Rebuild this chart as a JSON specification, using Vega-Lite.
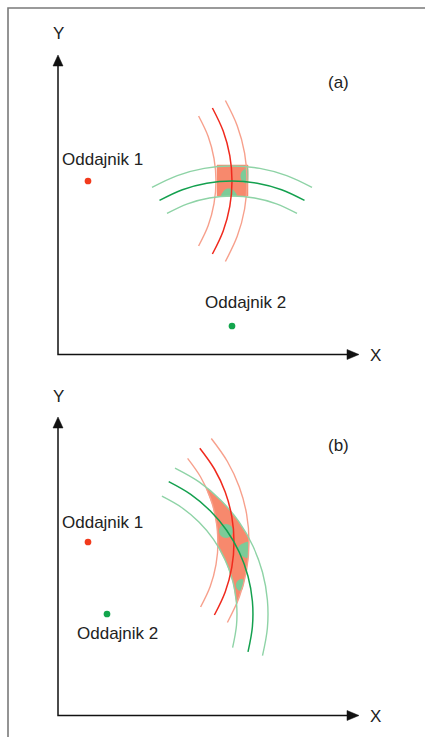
{
  "$schema": "https://vega.github.io/schema/vega-lite/v6.json",
  "width": 425,
  "height": 737,
  "autosize": {"type": "none"},
  "padding": 0,
  "background": "white",
  "config": {"view": {"stroke": null}},
  "datasets": {
    "lines": [
      {"id": "border", "k": "border", "i": 0, "x": 425, "y": 8},
      {"id": "border", "k": "border", "i": 1, "x": 8, "y": 8},
      {"id": "border", "k": "border", "i": 2, "x": 8, "y": 737},
      {"id": "axa", "k": "axis", "i": 0, "x": 58, "y": 64},
      {"id": "axa", "k": "axis", "i": 1, "x": 58, "y": 354.5},
      {"id": "axa", "k": "axis", "i": 2, "x": 349, "y": 354.5},
      {"id": "axb", "k": "axis", "i": 0, "x": 58, "y": 426},
      {"id": "axb", "k": "axis", "i": 1, "x": 58, "y": 715.5},
      {"id": "axb", "k": "axis", "i": 2, "x": 349, "y": 715.5},

      {"id": "ra1", "k": "ro", "i": 0, "x": 198.6, "y": 116},
      {"id": "ra1", "k": "ro", "i": 1, "x": 208.2, "y": 136.5},
      {"id": "ra1", "k": "ro", "i": 2, "x": 214.0, "y": 158.4},
      {"id": "ra1", "k": "ro", "i": 3, "x": 216, "y": 181},
      {"id": "ra1", "k": "ro", "i": 4, "x": 214.0, "y": 203.6},
      {"id": "ra1", "k": "ro", "i": 5, "x": 208.2, "y": 225.5},
      {"id": "ra1", "k": "ro", "i": 6, "x": 198.6, "y": 246},
      {"id": "ra2", "k": "rm", "i": 0, "x": 212.4, "y": 108},
      {"id": "ra2", "k": "rm", "i": 1, "x": 223.2, "y": 131.1},
      {"id": "ra2", "k": "rm", "i": 2, "x": 229.8, "y": 155.7},
      {"id": "ra2", "k": "rm", "i": 3, "x": 232, "y": 181},
      {"id": "ra2", "k": "rm", "i": 4, "x": 229.8, "y": 206.4},
      {"id": "ra2", "k": "rm", "i": 5, "x": 223.2, "y": 230.9},
      {"id": "ra2", "k": "rm", "i": 6, "x": 212.4, "y": 254},
      {"id": "ra3", "k": "ro", "i": 0, "x": 225.4, "y": 100.5},
      {"id": "ra3", "k": "ro", "i": 1, "x": 237.3, "y": 125.9},
      {"id": "ra3", "k": "ro", "i": 2, "x": 244.6, "y": 153.1},
      {"id": "ra3", "k": "ro", "i": 3, "x": 247, "y": 181},
      {"id": "ra3", "k": "ro", "i": 4, "x": 244.6, "y": 209},
      {"id": "ra3", "k": "ro", "i": 5, "x": 237.3, "y": 236.1},
      {"id": "ra3", "k": "ro", "i": 6, "x": 225.4, "y": 261.5},

      {"id": "ga1", "k": "go", "i": 0, "x": 152, "y": 187.4},
      {"id": "ga1", "k": "go", "i": 1, "x": 177.3, "y": 175.6},
      {"id": "ga1", "k": "go", "i": 2, "x": 204.2, "y": 168.4},
      {"id": "ga1", "k": "go", "i": 3, "x": 232, "y": 166},
      {"id": "ga1", "k": "go", "i": 4, "x": 259.8, "y": 168.4},
      {"id": "ga1", "k": "go", "i": 5, "x": 286.7, "y": 175.6},
      {"id": "ga1", "k": "go", "i": 6, "x": 312, "y": 187.4},
      {"id": "ga2", "k": "gm", "i": 0, "x": 159.5, "y": 200.4},
      {"id": "ga2", "k": "gm", "i": 1, "x": 182.4, "y": 189.7},
      {"id": "ga2", "k": "gm", "i": 2, "x": 206.8, "y": 183.2},
      {"id": "ga2", "k": "gm", "i": 3, "x": 232, "y": 181},
      {"id": "ga2", "k": "gm", "i": 4, "x": 257.2, "y": 183.2},
      {"id": "ga2", "k": "gm", "i": 5, "x": 281.6, "y": 189.7},
      {"id": "ga2", "k": "gm", "i": 6, "x": 304.5, "y": 200.4},
      {"id": "ga3", "k": "go", "i": 0, "x": 167, "y": 213.4},
      {"id": "ga3", "k": "go", "i": 1, "x": 187.5, "y": 203.8},
      {"id": "ga3", "k": "go", "i": 2, "x": 209.4, "y": 198},
      {"id": "ga3", "k": "go", "i": 3, "x": 232, "y": 196},
      {"id": "ga3", "k": "go", "i": 4, "x": 254.6, "y": 198},
      {"id": "ga3", "k": "go", "i": 5, "x": 276.5, "y": 203.8},
      {"id": "ga3", "k": "go", "i": 6, "x": 297, "y": 213.4},

      {"id": "rb1", "k": "ro", "i": 0, "x": 187.6, "y": 458.4},
      {"id": "rb1", "k": "ro", "i": 1, "x": 200.6, "y": 477},
      {"id": "rb1", "k": "ro", "i": 2, "x": 210.2, "y": 497.5},
      {"id": "rb1", "k": "ro", "i": 3, "x": 216, "y": 519.4},
      {"id": "rb1", "k": "ro", "i": 4, "x": 218, "y": 542},
      {"id": "rb1", "k": "ro", "i": 5, "x": 216, "y": 564.6},
      {"id": "rb1", "k": "ro", "i": 6, "x": 210.2, "y": 586.5},
      {"id": "rb1", "k": "ro", "i": 7, "x": 200.6, "y": 607},
      {"id": "rb2", "k": "rm", "i": 0, "x": 199.8, "y": 448.2},
      {"id": "rb2", "k": "rm", "i": 1, "x": 214.4, "y": 469},
      {"id": "rb2", "k": "rm", "i": 2, "x": 225.2, "y": 492.1},
      {"id": "rb2", "k": "rm", "i": 3, "x": 231.8, "y": 516.7},
      {"id": "rb2", "k": "rm", "i": 4, "x": 234, "y": 542},
      {"id": "rb2", "k": "rm", "i": 5, "x": 231.8, "y": 567.4},
      {"id": "rb2", "k": "rm", "i": 6, "x": 225.2, "y": 591.9},
      {"id": "rb2", "k": "rm", "i": 7, "x": 214.4, "y": 615},
      {"id": "rb3", "k": "ro", "i": 0, "x": 211.3, "y": 438.5},
      {"id": "rb3", "k": "ro", "i": 1, "x": 227.4, "y": 461.5},
      {"id": "rb3", "k": "ro", "i": 2, "x": 239.3, "y": 487},
      {"id": "rb3", "k": "ro", "i": 3, "x": 246.6, "y": 514},
      {"id": "rb3", "k": "ro", "i": 4, "x": 249, "y": 542},
      {"id": "rb3", "k": "ro", "i": 5, "x": 246.6, "y": 570},
      {"id": "rb3", "k": "ro", "i": 6, "x": 239.3, "y": 597.1},
      {"id": "rb3", "k": "ro", "i": 7, "x": 227.4, "y": 622.5},

      {"id": "gb1", "k": "go", "i": 0, "x": 161.9, "y": 496.2},
      {"id": "gb1", "k": "go", "i": 1, "x": 181.6, "y": 507.5},
      {"id": "gb1", "k": "go", "i": 2, "x": 198.9, "y": 522.1},
      {"id": "gb1", "k": "go", "i": 3, "x": 213.5, "y": 539.4},
      {"id": "gb1", "k": "go", "i": 4, "x": 224.8, "y": 559.1},
      {"id": "gb1", "k": "go", "i": 5, "x": 232.6, "y": 580.4},
      {"id": "gb1", "k": "go", "i": 6, "x": 236.5, "y": 602.7},
      {"id": "gb1", "k": "go", "i": 7, "x": 236.5, "y": 625.3},
      {"id": "gb1", "k": "go", "i": 8, "x": 232.6, "y": 647.6},
      {"id": "gb2", "k": "gm", "i": 0, "x": 168.7, "y": 481.7},
      {"id": "gb2", "k": "gm", "i": 1, "x": 190.7, "y": 494.4},
      {"id": "gb2", "k": "gm", "i": 2, "x": 210.2, "y": 510.8},
      {"id": "gb2", "k": "gm", "i": 3, "x": 226.6, "y": 530.3},
      {"id": "gb2", "k": "gm", "i": 4, "x": 239.3, "y": 552.3},
      {"id": "gb2", "k": "gm", "i": 5, "x": 248, "y": 576.2},
      {"id": "gb2", "k": "gm", "i": 6, "x": 252.4, "y": 601.3},
      {"id": "gb2", "k": "gm", "i": 7, "x": 252.4, "y": 626.7},
      {"id": "gb2", "k": "gm", "i": 8, "x": 248, "y": 651.8},
      {"id": "gb3", "k": "go", "i": 0, "x": 175, "y": 468.1},
      {"id": "gb3", "k": "go", "i": 1, "x": 199.4, "y": 482.1},
      {"id": "gb3", "k": "go", "i": 2, "x": 220.8, "y": 500.2},
      {"id": "gb3", "k": "go", "i": 3, "x": 238.9, "y": 521.7},
      {"id": "gb3", "k": "go", "i": 4, "x": 252.9, "y": 546},
      {"id": "gb3", "k": "go", "i": 5, "x": 262.5, "y": 572.3},
      {"id": "gb3", "k": "go", "i": 6, "x": 267.4, "y": 600},
      {"id": "gb3", "k": "go", "i": 7, "x": 267.4, "y": 628},
      {"id": "gb3", "k": "go", "i": 8, "x": 262.5, "y": 655.7}
    ],
    "polys": [
      {"id": "arr_ay", "k": "arrow", "i": 0, "x": 58, "y": 55},
      {"id": "arr_ay", "k": "arrow", "i": 1, "x": 63, "y": 66},
      {"id": "arr_ay", "k": "arrow", "i": 2, "x": 53, "y": 66},
      {"id": "arr_ax", "k": "arrow", "i": 0, "x": 359, "y": 354.5},
      {"id": "arr_ax", "k": "arrow", "i": 1, "x": 347, "y": 349.5},
      {"id": "arr_ax", "k": "arrow", "i": 2, "x": 347, "y": 359.5},
      {"id": "arr_by", "k": "arrow", "i": 0, "x": 58, "y": 417},
      {"id": "arr_by", "k": "arrow", "i": 1, "x": 63, "y": 428},
      {"id": "arr_by", "k": "arrow", "i": 2, "x": 53, "y": 428},
      {"id": "arr_bx", "k": "arrow", "i": 0, "x": 359, "y": 715.5},
      {"id": "arr_bx", "k": "arrow", "i": 1, "x": 347, "y": 710.5},
      {"id": "arr_bx", "k": "arrow", "i": 2, "x": 347, "y": 720.5},

      {"id": "oa", "k": "orange", "i": 0, "x": 217, "y": 165},
      {"id": "oa", "k": "orange", "i": 1, "x": 248, "y": 165},
      {"id": "oa", "k": "orange", "i": 2, "x": 248, "y": 196},
      {"id": "oa", "k": "orange", "i": 3, "x": 217, "y": 196},

      {"id": "ob", "k": "orange", "i": 0, "x": 205.7, "y": 486.8},
      {"id": "ob", "k": "orange", "i": 1, "x": 222.8, "y": 502.2},
      {"id": "ob", "k": "orange", "i": 2, "x": 237.2, "y": 519.4},
      {"id": "ob", "k": "orange", "i": 3, "x": 248.9, "y": 538.0},
      {"id": "ob", "k": "orange", "i": 4, "x": 248.1, "y": 558.8},
      {"id": "ob", "k": "orange", "i": 5, "x": 244.2, "y": 580.9},
      {"id": "ob", "k": "orange", "i": 6, "x": 236.6, "y": 603.9},
      {"id": "ob", "k": "orange", "i": 7, "x": 233.4, "y": 583.7},
      {"id": "ob", "k": "orange", "i": 8, "x": 227.1, "y": 564.2},
      {"id": "ob", "k": "orange", "i": 9, "x": 217.9, "y": 546.2},
      {"id": "ob", "k": "orange", "i": 10, "x": 217.0, "y": 526.2},
      {"id": "ob", "k": "orange", "i": 11, "x": 213.0, "y": 506.2},

      {"id": "pa1", "k": "patch", "i": 0, "x": 248, "y": 168},
      {"id": "pa1", "k": "patch", "i": 1, "x": 244, "y": 169.5},
      {"id": "pa1", "k": "patch", "i": 2, "x": 241, "y": 173},
      {"id": "pa1", "k": "patch", "i": 3, "x": 240.5, "y": 177},
      {"id": "pa1", "k": "patch", "i": 4, "x": 242, "y": 181},
      {"id": "pa1", "k": "patch", "i": 5, "x": 245, "y": 183},
      {"id": "pa1", "k": "patch", "i": 6, "x": 248, "y": 183.5},
      {"id": "pa2", "k": "patch", "i": 0, "x": 222, "y": 196},
      {"id": "pa2", "k": "patch", "i": 1, "x": 223, "y": 192},
      {"id": "pa2", "k": "patch", "i": 2, "x": 226, "y": 189},
      {"id": "pa2", "k": "patch", "i": 3, "x": 229, "y": 188.5},
      {"id": "pa2", "k": "patch", "i": 4, "x": 232, "y": 189},
      {"id": "pa2", "k": "patch", "i": 5, "x": 235, "y": 192},
      {"id": "pa2", "k": "patch", "i": 6, "x": 236, "y": 196},
      {"id": "pb1", "k": "patch", "i": 0, "x": 233, "y": 531},
      {"id": "pb1", "k": "patch", "i": 1, "x": 231, "y": 536},
      {"id": "pb1", "k": "patch", "i": 2, "x": 226, "y": 538},
      {"id": "pb1", "k": "patch", "i": 3, "x": 221, "y": 536},
      {"id": "pb1", "k": "patch", "i": 4, "x": 219, "y": 531},
      {"id": "pb1", "k": "patch", "i": 5, "x": 221, "y": 526},
      {"id": "pb1", "k": "patch", "i": 6, "x": 226, "y": 524},
      {"id": "pb1", "k": "patch", "i": 7, "x": 231, "y": 526},
      {"id": "pb2", "k": "patch", "i": 0, "x": 248.5, "y": 543},
      {"id": "pb2", "k": "patch", "i": 1, "x": 244, "y": 543},
      {"id": "pb2", "k": "patch", "i": 2, "x": 239.5, "y": 545.5},
      {"id": "pb2", "k": "patch", "i": 3, "x": 237.5, "y": 550},
      {"id": "pb2", "k": "patch", "i": 4, "x": 239.5, "y": 554.5},
      {"id": "pb2", "k": "patch", "i": 5, "x": 244, "y": 557},
      {"id": "pb2", "k": "patch", "i": 6, "x": 248, "y": 557},
      {"id": "pb3", "k": "patch", "i": 0, "x": 243.5, "y": 580},
      {"id": "pb3", "k": "patch", "i": 1, "x": 239.5, "y": 579.5},
      {"id": "pb3", "k": "patch", "i": 2, "x": 236.5, "y": 582.5},
      {"id": "pb3", "k": "patch", "i": 3, "x": 236, "y": 586.5},
      {"id": "pb3", "k": "patch", "i": 4, "x": 238, "y": 590},
      {"id": "pb3", "k": "patch", "i": 5, "x": 241, "y": 590.5},
      {"id": "pb3", "k": "patch", "i": 6, "x": 243, "y": 588}
    ],
    "dots": [
      {"who": "Oddajnik 1", "x": 88, "y": 181},
      {"who": "Oddajnik 2", "x": 232, "y": 326},
      {"who": "Oddajnik 1", "x": 88, "y": 542},
      {"who": "Oddajnik 2", "x": 107, "y": 614}
    ],
    "labels": [
      {"text": "Y", "x": 53, "y": 39},
      {"text": "(a)", "x": 328, "y": 88},
      {"text": "Oddajnik 1", "x": 62, "y": 165},
      {"text": "Oddajnik 2", "x": 205, "y": 308},
      {"text": "X", "x": 370, "y": 361},
      {"text": "Y", "x": 53, "y": 402},
      {"text": "(b)", "x": 328, "y": 451},
      {"text": "Oddajnik 1", "x": 62, "y": 528},
      {"text": "Oddajnik 2", "x": 77, "y": 639},
      {"text": "X", "x": 370, "y": 722}
    ]
  },
  "encoding": {
    "x": {"field": "x", "type": "quantitative", "axis": null, "scale": {"domain": [0, 425], "nice": false, "zero": false}},
    "y": {"field": "y", "type": "quantitative", "axis": null, "scale": {"domain": [0, 737], "nice": false, "zero": false, "reverse": true}}
  },
  "layer": [
    {
      "data": {"name": "lines"},
      "transform": [{"filter": "datum.k == 'border'"}],
      "mark": {"type": "line", "stroke": "#7a7a7a", "strokeWidth": 1.6},
      "encoding": {"detail": {"field": "id"}, "order": {"field": "i", "type": "quantitative"}}
    },
    {
      "data": {"name": "polys"},
      "transform": [{"filter": "datum.k == 'orange'"}],
      "mark": {"type": "line", "interpolate": "linear-closed", "fill": "#f7896d", "stroke": "#f7896d", "strokeWidth": 0.5},
      "encoding": {"detail": {"field": "id"}, "order": {"field": "i", "type": "quantitative"}}
    },
    {
      "data": {"name": "polys"},
      "transform": [{"filter": "datum.k == 'patch'"}],
      "mark": {"type": "line", "interpolate": "cardinal-closed", "fill": "#7ccb98", "strokeWidth": 0},
      "encoding": {"detail": {"field": "id"}, "order": {"field": "i", "type": "quantitative"}}
    },
    {
      "data": {"name": "lines"},
      "transform": [{"filter": "datum.k == 'ro'"}],
      "mark": {"type": "line", "interpolate": "catmull-rom", "stroke": "#f7a08c", "strokeWidth": 1.4},
      "encoding": {"detail": {"field": "id"}, "order": {"field": "i", "type": "quantitative"}}
    },
    {
      "data": {"name": "lines"},
      "transform": [{"filter": "datum.k == 'go'"}],
      "mark": {"type": "line", "interpolate": "catmull-rom", "stroke": "#8ed3a6", "strokeWidth": 1.4},
      "encoding": {"detail": {"field": "id"}, "order": {"field": "i", "type": "quantitative"}}
    },
    {
      "data": {"name": "lines"},
      "transform": [{"filter": "datum.k == 'rm'"}],
      "mark": {"type": "line", "interpolate": "catmull-rom", "stroke": "#f02a1e", "strokeWidth": 1.5},
      "encoding": {"detail": {"field": "id"}, "order": {"field": "i", "type": "quantitative"}}
    },
    {
      "data": {"name": "lines"},
      "transform": [{"filter": "datum.k == 'gm'"}],
      "mark": {"type": "line", "interpolate": "catmull-rom", "stroke": "#13a04e", "strokeWidth": 1.5},
      "encoding": {"detail": {"field": "id"}, "order": {"field": "i", "type": "quantitative"}}
    },
    {
      "data": {"name": "lines"},
      "transform": [{"filter": "datum.k == 'axis'"}],
      "mark": {"type": "line", "stroke": "#111111", "strokeWidth": 1.5},
      "encoding": {"detail": {"field": "id"}, "order": {"field": "i", "type": "quantitative"}}
    },
    {
      "data": {"name": "polys"},
      "transform": [{"filter": "datum.k == 'arrow'"}],
      "mark": {"type": "line", "interpolate": "linear-closed", "fill": "#111111", "stroke": "#111111", "strokeWidth": 0.5},
      "encoding": {"detail": {"field": "id"}, "order": {"field": "i", "type": "quantitative"}}
    },
    {
      "data": {"name": "dots"},
      "mark": {"type": "point", "filled": true, "shape": "circle", "size": 45, "opacity": 1},
      "encoding": {
        "color": {"field": "who", "type": "nominal", "legend": null, "scale": {"domain": ["Oddajnik 1", "Oddajnik 2"], "range": ["#f23a1c", "#12a54c"]}}
      }
    },
    {
      "data": {"name": "labels"},
      "mark": {"type": "text", "align": "left", "baseline": "alphabetic", "font": "Liberation Sans", "fontSize": 17, "color": "#222222"},
      "encoding": {"text": {"field": "text"}}
    }
  ]
}
